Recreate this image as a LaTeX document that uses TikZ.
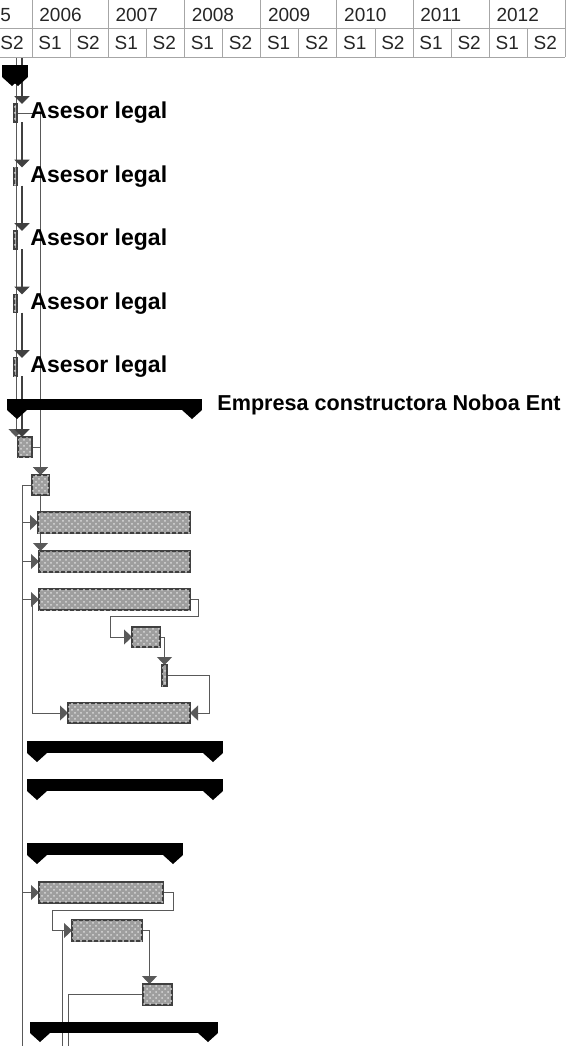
\documentclass[tikz,border=0pt]{standalone}
\usepackage{fontspec}
\setmainfont{Liberation Sans}
\usetikzlibrary{arrows.meta,patterns,backgrounds}

\newcommand{\sumtips}[1]{%
  \fill (#1.south west) -- ++(20,0) -- ++(-10,9) -- cycle;
  \fill (#1.south east) -- ++(-20,0) -- ++(10,9) -- cycle;}

\begin{document}
\begin{tikzpicture}[x=0.5pt, y=-0.5pt, >={Triangle[length=4pt,width=7.5pt]},
  grid/.style={draw=black!35, line width=0.4pt},
  hdr/.style={anchor=west, inner sep=0pt, text=black!85, font=\fontsize{9.5}{11}\selectfont},
  taskbar/.style={draw=black!75, line width=0.6pt, fill=black!38,
    postaction={pattern=crosshatch dots, pattern color=black!15}, inner sep=0pt, outer sep=0pt},
  sumbar/.style={fill=black, inner sep=0pt, outer sep=0pt},
  lbl/.style={anchor=west, inner sep=0pt, font=\bfseries\fontsize{11.5}{13}\selectfont},
  link/.style={draw=black!65, line width=0.5pt, ->},
  chain/.style={draw=black!75, line width=1pt, ->},
  line/.style={draw=black!65, line width=0.5pt}]
  \useasboundingbox (0,0) rectangle (577,1046);
  \clip (0,0) rectangle (577,1046);

  % encabezado
  \draw[grid] (0,28) -- (565,28) (0,57) -- (565,57);
  \foreach \i in {0,...,7} \draw[grid] (32+76.2*\i,0) -- (32+76.2*\i,57);
  \foreach \i in {0,...,6} \draw[grid] (70.1+76.2*\i,28) -- (70.1+76.2*\i,57);
  \node[hdr] (yr0) at (0,15) {5};
  \foreach \yr [count=\i] in {2006,...,2012}
    \node[hdr] (yr\i) at (32+76.2*\i-76.2+7,15) {\yr};
  \node[hdr] (sm0) at (0,43) {S2};
  \foreach \i in {0,...,6} {
    \node[hdr] (sa\i) at (38+76.2*\i,43) {S1};
    \node[hdr] (sb\i) at (76.1+76.2*\i,43) {S2};
  }

  % resumenes
  \node[sumbar, minimum width=13pt, minimum height=6pt] (t0) at (15,71) {};
  \sumtips{t0}
  \node[sumbar, minimum width=97.5pt, minimum height=5.5pt] (emp) at (104.5,404.5) {};
  \sumtips{emp}
  \node[lbl, font=\bfseries\fontsize{10.8}{13}\selectfont] (lblemp) at ([xshift=7.5pt]emp.east) {Empresa constructora Noboa Ent};
  \node[sumbar, minimum width=98pt, minimum height=6pt] (s1) at (125,747) {};
  \sumtips{s1}
  \node[sumbar, minimum width=98pt, minimum height=6pt] (s2) at (125,785) {};
  \sumtips{s2}
  \node[sumbar, minimum width=78pt, minimum height=6pt] (s3) at (105,849) {};
  \sumtips{s3}
  \node[sumbar, minimum width=94pt, minimum height=5.5pt] (s4) at (124,1027.5) {};
  \sumtips{s4}

  % asesor legal
  \foreach \i/\yy in {1/113,2/176.5,3/240,4/303.5,5/367} {
    \node[taskbar, minimum width=1.5pt, minimum height=9pt] (a\i) at (15.5,\yy) {};
    \node[lbl] (l\i) at ([xshift=6.5pt]a\i.east) {Asesor legal};
  }

  % tareas
  \node[taskbar, minimum width=7pt, minimum height=10pt] (b1) at (25,447) {};
  \node[taskbar, minimum width=8.5pt, minimum height=10pt] (b2) at (40.5,485) {};
  \node[taskbar, minimum width=76pt, minimum height=10.5pt] (B1) at (114,522.5) {};
  \node[taskbar, minimum width=75.5pt, minimum height=10.5pt] (B2) at (114.5,561.5) {};
  \node[taskbar, minimum width=75.5pt, minimum height=10.5pt] (B3) at (114.5,599.5) {};
  \node[taskbar, minimum width=14pt, minimum height=10pt] (C) at (146,637) {};
  \node[taskbar, minimum width=2.5pt, minimum height=10.5pt] (D) at (164.5,675.5) {};
  \node[taskbar, minimum width=61pt, minimum height=10pt] (E) at (129,713) {};
  \node[taskbar, minimum width=62pt, minimum height=10.5pt] (F) at (101,892.5) {};
  \node[taskbar, minimum width=35pt, minimum height=10.5pt] (G) at (107,930.5) {};
  \node[taskbar, minimum width=14.5pt, minimum height=10.5pt] (H) at (157.5,994.5) {};

  \coordinate (in1) at (16,57);
  \coordinate (in2) at (22,57);
  \coordinate (bot1) at (22,1046);
  \coordinate (bot2) at (68,1046);
  \coordinate (bot3) at (62,1046);
  \coordinate (j5) at ([xshift=2.5pt]a5.south east);
  \coordinate (trunk) at ([xshift=-5pt]b2.west);

  % vinculos
  \begin{pgfonlayer}{background}
    \draw[link] (in1) -- (in1 |- b1.north);
    \draw[chain] (in2) -- ([xshift=2.5pt]a1.north east);
    \foreach \i/\j in {1/2,2/3,3/4,4/5}
      \draw[chain] ([xshift=2.5pt]a\i.south east) -- ([xshift=2.5pt]a\j.north east);
    \draw[chain] (j5) -- (j5 |- b1.north);
    \draw[link] (a1.east) -| (b2.north);
    \draw[link] (b1.east) -| (b2.north);
    \draw[link] (b2.south) -- (b2.south |- B2.north);
    \draw[line] (b2.west) -- (trunk) -- (trunk |- bot1);
    \foreach \t in {B1,B2,B3,F}
      \draw[link] (trunk |- \t.west) -- (\t.west);
    \draw[link] (B3.east) -- ++(8,0) -- ++(0,17) -| ([xshift=-11pt]C.west) -- (C.west);
    \draw[link] (C.east) -| (D.north);
    \draw[link] (D.east) -- ++(42,0) |- (E.east);
    \draw[link] (B3.west) -- ++(-7,0) |- (E.west);
    \draw[link] (F.east) -- ++(10,0) -- ++(0,18) -| ([xshift=-10pt]G.west) -- (G.west);
    \draw[link] (G.east) -| ([xshift=-4pt]H.north);
    \draw[line] (H.west) -| (bot2);
    \draw[line] ([xshift=-5pt]G.west) -- (bot3);
  \end{pgfonlayer}
\end{tikzpicture}
\end{document}
